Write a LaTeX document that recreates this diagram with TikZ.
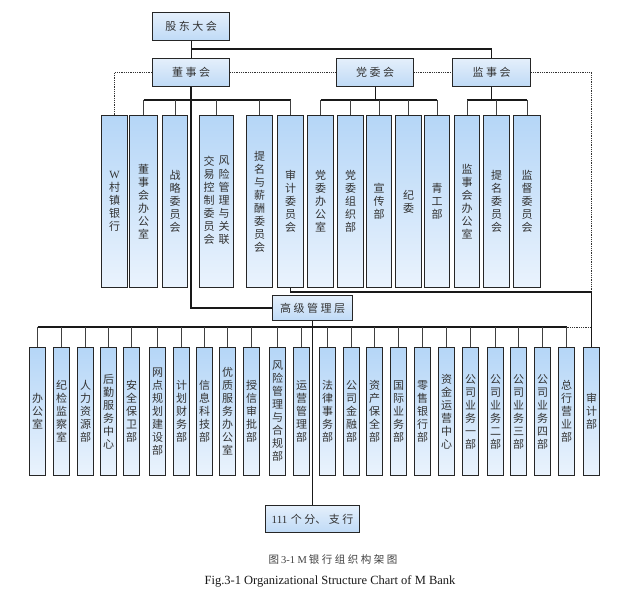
\documentclass[tikz,border=0pt]{standalone}
\usepackage{fontspec}
\setmainfont{Liberation Serif}
\newfontfamily\cjk{Noto Sans CJK SC}
\usetikzlibrary{calc}
\definecolor{tbTop}{HTML}{E4EFFB}
\definecolor{tbBot}{HTML}{BFDAF6}
\definecolor{vbTop}{HTML}{B5D6F7}
\definecolor{vbBot}{HTML}{EAF3FD}
\newcommand\gp{\hspace{2.5pt}}
\newcommand\colstack[1]{\begin{tabular}{@{}c@{}}#1\end{tabular}}
\begin{document}
\begin{tikzpicture}[x=1pt,y=-1pt,
  topbox/.style={draw=black!85, line width=1.1pt, top color=tbTop, bottom color=tbBot, inner sep=0pt, anchor=north west, font=\cjk\fontsize{11}{13}\selectfont, text=black!80},
  vbox/.style={draw=black!85, line width=1.1pt, top color=vbTop, bottom color=vbBot, inner sep=0pt, anchor=north west, align=center, font=\cjk\fontsize{11}{13}\selectfont, text=black!80},
  midbox/.style={vbox, minimum height=172pt},
  lowbox/.style={vbox, minimum width=16pt, minimum height=128pt},
  bus/.style={line width=1.1pt, black!90},
  drop/.style={line width=0.8pt, black!75},
  dots/.style={line width=0.8pt, densely dotted, black!80}]
\fill[white] (0,0) rectangle (623,600);
\useasboundingbox (0,0) rectangle (623,600);

% top level
\node[topbox, minimum width=77pt, minimum height=28pt] (gd) at (152,12) {股\gp 东\gp 大\gp 会};
\node[topbox, minimum width=77pt, minimum height=28pt] (dsh) at (152,58) {董\gp 事\gp 会};
\node[topbox, minimum width=77pt, minimum height=28pt] (dwh) at (336,58) {党\gp 委\gp 会};
\node[topbox, minimum width=78pt, minimum height=28pt] (jsh) at (452,58) {监\gp 事\gp 会};
\node[topbox, minimum width=80pt, minimum height=25pt] (gj) at (272,295) {高\gp 级\gp 管\gp 理\gp 层};
\node[topbox, minimum width=94pt, minimum height=27pt] (fz) at (265,505) {{\rmfamily 111}\hspace{3.5pt}个\gp 分、\gp 支\gp 行};

% middle row
\node[midbox, minimum width=26pt] (m1) at (101,115) {{\rmfamily W}\\村\\镇\\银\\行};
\node[midbox, minimum width=28pt] (m2) at (129,115) {董\\事\\会\\办\\公\\室};
\node[midbox, minimum width=25pt] (m3) at (162,115) {战\\略\\委\\员\\会};
\node[midbox, minimum width=34pt] (m4) at (199,115) {\colstack{交\\易\\控\\制\\委\\员\\会}\hspace{4pt}\colstack{风\\险\\管\\理\\与\\关\\联}};
\node[midbox, minimum width=26pt] (m5) at (246,115) {提\\名\\与\\薪\\酬\\委\\员\\会};
\node[midbox, minimum width=26pt] (m6) at (277,115) {审\\计\\委\\员\\会};
\node[midbox, minimum width=26pt] (m7) at (307,115) {党\\委\\办\\公\\室};
\node[midbox, minimum width=26pt] (m8) at (337,115) {党\\委\\组\\织\\部};
\node[midbox, minimum width=25pt] (m9) at (366,115) {宣\\传\\部};
\node[midbox, minimum width=26pt] (m10) at (395,115) {纪\\委};
\node[midbox, minimum width=25pt] (m11) at (424,115) {青\\工\\部};
\node[midbox, minimum width=25pt] (m12) at (454,115) {监\\事\\会\\办\\公\\室};
\node[midbox, minimum width=26pt] (m13) at (483,115) {提\\名\\委\\员\\会};
\node[midbox, minimum width=27pt] (m14) at (513,115) {监\\督\\委\\员\\会};

% bottom row
\node[lowbox] (b1) at (29,347) {办\\公\\室};
\node[lowbox] (b2) at (53,347) {纪\\检\\监\\察\\室};
\node[lowbox] (b3) at (77,347) {人\\力\\资\\源\\部};
\node[lowbox] (b4) at (100,347) {后\\勤\\服\\务\\中\\心};
\node[lowbox] (b5) at (123,347) {安\\全\\保\\卫\\部};
\node[lowbox] (b6) at (149,347) {网\\点\\规\\划\\建\\设\\部};
\node[lowbox] (b7) at (173,347) {计\\划\\财\\务\\部};
\node[lowbox] (b8) at (196,347) {信\\息\\科\\技\\部};
\node[lowbox] (b9) at (219,347) {优\\质\\服\\务\\办\\公\\室};
\node[lowbox] (b10) at (243,347) {授\\信\\审\\批\\部};
\node[lowbox] (b11) at (269,347) {风\\险\\管\\理\\与\\合\\规\\部};
\node[lowbox] (b12) at (293,347) {运\\营\\管\\理\\部};
\node[lowbox] (b13) at (319,347) {法\\律\\事\\务\\部};
\node[lowbox] (b14) at (343,347) {公\\司\\金\\融\\部};
\node[lowbox] (b15) at (366,347) {资\\产\\保\\全\\部};
\node[lowbox] (b16) at (390,347) {国\\际\\业\\务\\部};
\node[lowbox] (b17) at (414,347) {零\\售\\银\\行\\部};
\node[lowbox] (b18) at (438,347) {资\\金\\运\\营\\中\\心};
\node[lowbox] (b19) at (462,347) {公\\司\\业\\务\\一\\部};
\node[lowbox] (b20) at (487,347) {公\\司\\业\\务\\二\\部};
\node[lowbox] (b21) at (510,347) {公\\司\\业\\务\\三\\部};
\node[lowbox] (b22) at (534,347) {公\\司\\业\\务\\四\\部};
\node[lowbox] (b23) at (558,347) {总\\行\\营\\业\\部};
\node[lowbox] (b24) at (583,347) {审\\计\\部};

% helper levels
\coordinate (busT) at (0,49);
\coordinate (busM) at (0,100);
\coordinate (audY) at (0,292);
\coordinate (busB) at (0,327);

% top connectors
\draw[bus] (gd.south) -- (dsh.north);
\draw[bus] (gd.south |- busT) -| (jsh.north);
\draw[bus, line width=1.6pt] (dsh.south) |- (gj.west);

% dotted relations
\draw[dots] (dsh.west) -| (m1.north);
\draw[dots] (dsh.east) -- (dwh.west);
\draw[dots] (dwh.east) -- (jsh.west);
\draw[dots] (jsh.east) -| (b24.north |- audY);

% board committees
\draw[bus] (m2.north |- busM) -- (m6.north |- busM);
\foreach \n in {m2,m3,m4,m5,m6} \draw[drop] (\n.north |- busM) -- (\n.north);
% party committee
\draw[bus] (dwh.south) -- (dwh.south |- busM);
\draw[bus] (m7.north |- busM) -- (m11.north |- busM);
\foreach \n in {m7,m8,m9,m10,m11} \draw[drop] (\n.north |- busM) -- (\n.north);
% supervisory board
\draw[bus] (jsh.south) -- (jsh.south |- busM);
\draw[bus] (m12.north |- busM) -- (m14.north |- busM);
\foreach \n in {m12,m13,m14} \draw[drop] (\n.north |- busM) -- (\n.north);

% audit line
\draw[bus] (m6.south) |- (b24.north |- audY) -- (b24.north);

% senior management
\draw[bus] (gj.south) -- (fz.north);
\draw[bus] (b1.north |- busB) -- (b23.north |- busB);
\draw[dots] (b23.north |- busB) -- (b24.north |- busB);
\foreach \i in {1,...,23} \draw[drop] (b\i.north |- busB) -- (b\i.north);

% captions
\node[font=\cjk\fontsize{10.5}{12}\selectfont, text=black!75] (cap1) at (333,560) {图\hspace{2pt}{\rmfamily 3-1 M}\hspace{2pt}银\gp 行\gp 组\gp 织\gp 构\gp 架\gp 图};
\node[font=\fontsize{12.5}{14}\selectfont, text=black!90] (cap2) at (330,581) {Fig.3-1 Organizational Structure Chart of M Bank};
\end{tikzpicture}
\end{document}
